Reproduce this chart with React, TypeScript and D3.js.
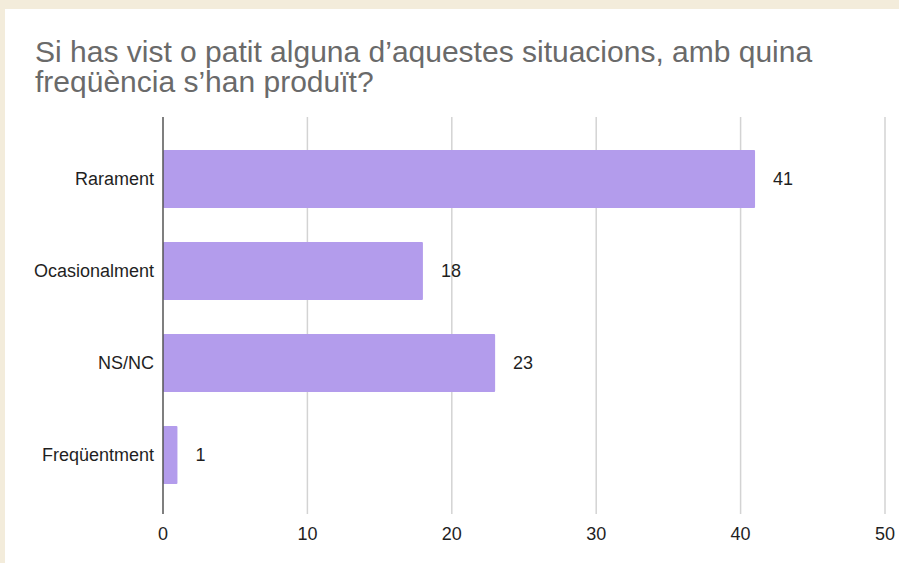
import React from "react";
import * as d3 from "d3";

const categories = ["Rarament", "Ocasionalment", "NS/NC", "Freqüentment"];
const values = [41, 18, 23, 1];
const xTicks = [0, 10, 20, 30, 40, 50];
const titleLines = [
  "Si has vist o patit alguna d’aquestes situacions, amb quina",
  "freqüència s’han produït?",
];

export default function App() {
  const W = 899, H = 563;
  const x = d3.scaleLinear().domain([0, 50]).range([163, 885]);
  const y = d3.scaleBand<string>().domain(categories).range([133, 501]).paddingInner(0.37).paddingOuter(0.185);
  const font = "'Liberation Sans', Arial, Helvetica, sans-serif";
  return (
    <svg width={W} height={H} style={{ position: "fixed", left: 0, top: 0 }} fontFamily={font}>
      <rect x={0} y={0} width={W} height={H} fill="#f3ecdb" />
      <rect x={5} y={9} width={W - 5} height={H - 9} fill="#ffffff" />
      {titleLines.map((t, i) => (
        <text key={i} x={35} y={62 + i * 30} fontSize={30} fill="#6a6a6a">{t}</text>
      ))}
      {xTicks.filter(t => t > 0).map(t => (
        <line key={t} x1={x(t)} x2={x(t)} y1={117} y2={514} stroke="#d3d3d3" strokeWidth={1.5} />
      ))}
      {categories.map((c, i) => (
        <g key={c}>
          <rect x={x(0)} y={y(c)!} width={x(values[i]) - x(0)} height={y.bandwidth()} fill="#b39cec" rx={1} />
          <text x={x(0) - 9} y={y(c)! + y.bandwidth() / 2} dy="0.35em" textAnchor="end" fontSize={18} fill="#1f1f1f">{c}</text>
          <text x={x(values[i]) + 18} y={y(c)! + y.bandwidth() / 2} dy="0.35em" fontSize={18} fill="#1f1f1f">{values[i]}</text>
        </g>
      ))}
      <line x1={x(0)} x2={x(0)} y1={117} y2={514} stroke="#555" strokeWidth={1.5} />
      {xTicks.map(t => (
        <text key={t} x={x(t)} y={540} textAnchor="middle" fontSize={18} fill="#1f1f1f">{t}</text>
      ))}
    </svg>
  );
}
